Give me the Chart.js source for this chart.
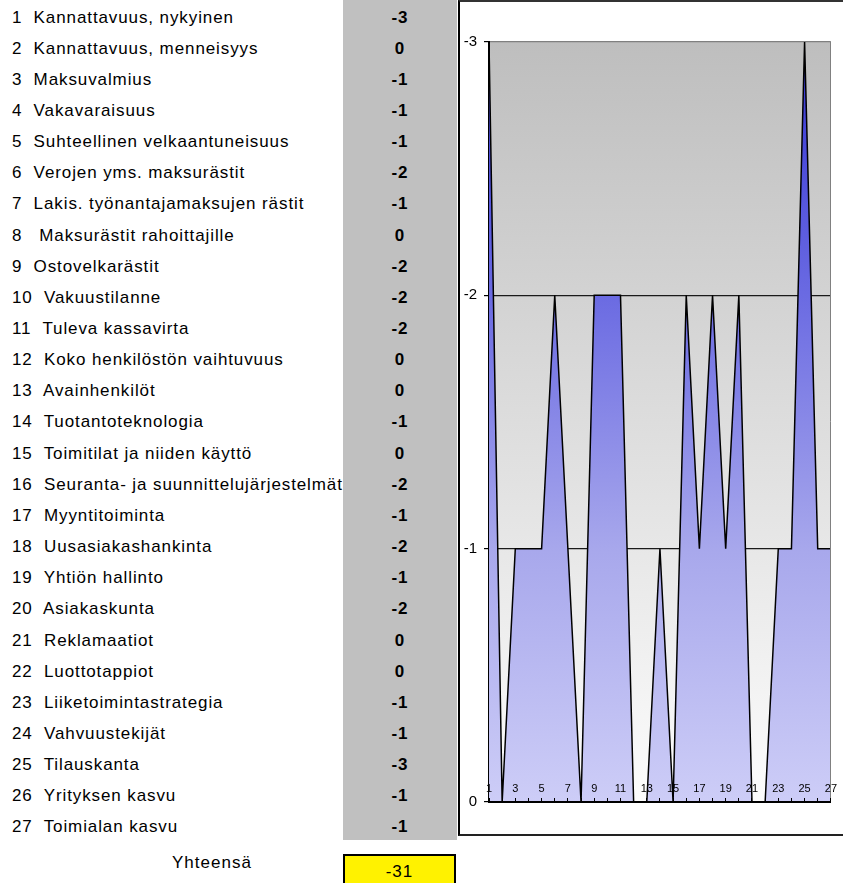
<!DOCTYPE html>
<html>
<head>
<meta charset="utf-8">
<script src="https://cdn.jsdelivr.net/npm/chart.js@4"></script>
<style>
body { margin: 0; background: #fff; font-family: "Liberation Sans", Arial, sans-serif; color: #000; }
#page { position: relative; width: 843px; height: 883px; overflow: hidden; }
#valcol { position: absolute; left: 343px; top: 0; width: 114px; height: 840px; background: #c0c0c0; }
.row { position: absolute; left: 12px; height: 31.15px; line-height: 31.15px; font-size: 17px; letter-spacing: 0.9px; white-space: pre; }
.val { position: absolute; left: 343px; width: 114px; text-align: center; height: 31.15px; line-height: 31.15px; font-size: 17px; font-weight: bold; letter-spacing: 1px; }
#frame { position: absolute; left: 458px; top: 0; width: 383px; height: 832px; border-left: 2px solid #000; border-top: 2px solid #333; border-bottom: 2px solid #222; }
#sumlabel { position: absolute; left: 172px; top: 851px; font-size: 17px; letter-spacing: 1px; line-height: 24px; }
#sumbox { position: absolute; left: 343px; top: 854px; width: 109px; height: 40px; background: #fff200; border: 2px solid #000; text-align: center; font-size: 17px; line-height: 31px; letter-spacing: 1px; }
</style>
</head>
<body>
<div id="page">
  <div id="valcol"></div>
  <div id="rows"></div>
  <div id="frame"><canvas id="chart" width="383" height="832"></canvas></div>
  <div id="sumlabel">Yhteensä</div>
  <div id="sumbox"></div>
</div>
<script>
// data
const categories = ['1', '2', '3', '4', '5', '6', '7', '8', '9', '10', '11', '12', '13', '14',
    '15', '16', '17', '18', '19', '20', '21', '22', '23', '24', '25', '26', '27'];
const rowNames = [
    'Kannattavuus, nykyinen',
    'Kannattavuus, menneisyys',
    'Maksuvalmius',
    'Vakavaraisuus',
    'Suhteellinen velkaantuneisuus',
    'Verojen yms. maksurästit',
    'Lakis. työnantajamaksujen rästit',
    ' Maksurästit rahoittajille',
    'Ostovelkarästit',
    'Vakuustilanne',
    'Tuleva kassavirta',
    'Koko henkilöstön vaihtuvuus',
    'Avainhenkilöt',
    'Tuotantoteknologia',
    'Toimitilat ja niiden käyttö',
    'Seuranta- ja suunnittelujärjestelmät',
    'Myyntitoiminta',
    'Uusasiakashankinta',
    'Yhtiön hallinto',
    'Asiakaskunta',
    'Reklamaatiot',
    'Luottotappiot',
    'Liiketoimintastrategia',
    'Vahvuustekijät',
    'Tilauskanta',
    'Yrityksen kasvu',
    'Toimialan kasvu'
];
const values = [-3, 0, -1, -1, -1, -2, -1, 0, -2, -2, -2, 0, 0, -1, 0, -2, -1, -2, -1, -2, 0, 0, -1, -1, -3, -1, -1];
const yMin = -3;
const yMax = 0;
const totalLabel = 'Yhteensä';

// table on the left
let rows = document.getElementById('rows');
for (let i = 0; i < categories.length; i++) {
    let top = 1.5 + i * 31.15;
    let r = document.createElement('div');
    r.className = 'row';
    r.style.top = top + 'px';
    r.textContent = categories[i] + '  ' + rowNames[i];
    rows.appendChild(r);
    let v = document.createElement('div');
    v.className = 'val';
    v.style.top = top + 'px';
    v.textContent = values[i];
    rows.appendChild(v);
}
document.getElementById('sumlabel').textContent = totalLabel;
document.getElementById('sumbox').textContent = values.reduce((a, b) => a + b, 0);

// grey gradient behind the plot
const plotBg = {
    id: 'plotBg',
    beforeDraw(chart) {
        let ctx = chart.ctx;
        let a = chart.chartArea;
        let g = ctx.createLinearGradient(0, a.top, 0, a.bottom);
        g.addColorStop(0, '#bebebe');
        g.addColorStop(1, '#fcfcfc');
        ctx.save();
        ctx.fillStyle = g;
        ctx.fillRect(a.left, a.top, a.right - a.left, a.bottom - a.top);
        ctx.restore();
    }
};

function blueFill(context) {
    let a = context.chart.chartArea;
    if (!a) return '#8888e0';
    let g = context.chart.ctx.createLinearGradient(0, a.top, 0, a.bottom);
    g.addColorStop(0, '#3434d4');
    g.addColorStop(0.33, '#6a6ae2');
    g.addColorStop(0.67, '#a8a8ec');
    g.addColorStop(1, '#cdcdf7');
    return g;
}

new Chart(document.getElementById('chart').getContext('2d'), {
    type: 'line',
    data: {
        labels: categories,
        datasets: [{
            data: values,
            borderColor: '#000',
            borderWidth: 1.5,
            backgroundColor: blueFill,
            fill: 'origin',
            tension: 0,
            pointRadius: 0
        }]
    },
    options: {
        responsive: false,
        animation: false,
        devicePixelRatio: 1,
        layout: { padding: { top: 40, right: 11, left: 0, bottom: 0 } },
        plugins: { legend: { display: false }, tooltip: { enabled: false } },
        scales: {
            x: {
                grid: {
                    z: 1,
                    color: c => c.index === categories.length - 1 ? '#808080' : 'rgba(0,0,0,0)',
                    tickColor: '#000',
                    tickLength: -4,
                    lineWidth: 1
                },
                border: { z: 1, color: '#000', width: 2 },
                ticks: {
                    z: 1,
                    autoSkip: false,
                    maxRotation: 0,
                    mirror: true,
                    padding: 6,
                    color: '#000',
                    font: { family: 'Liberation Sans, Arial', size: 11 },
                    callback: (v, i) => i % 2 === 0 ? categories[i] : ''
                },
                afterFit: s => { s.height = 32; }
            },
            y: {
                reverse: true,
                min: yMin,
                max: yMax,
                ticks: {
                    stepSize: 1,
                    color: '#000',
                    padding: 7,
                    font: { family: 'Liberation Sans, Arial', size: 15 }
                },
                grid: {
                    color: c => c.tick.value === yMin ? '#808080' : (c.tick.value === yMax ? 'rgba(0,0,0,0)' : '#1a1a1a'),
                    tickColor: '#000',
                    tickLength: 5,
                    lineWidth: 1.2
                },
                border: { color: '#000', width: 2 },
                afterFit: s => { s.width = 29; }
            }
        }
    },
    plugins: [plotBg]
});
</script>
</body>
</html>
